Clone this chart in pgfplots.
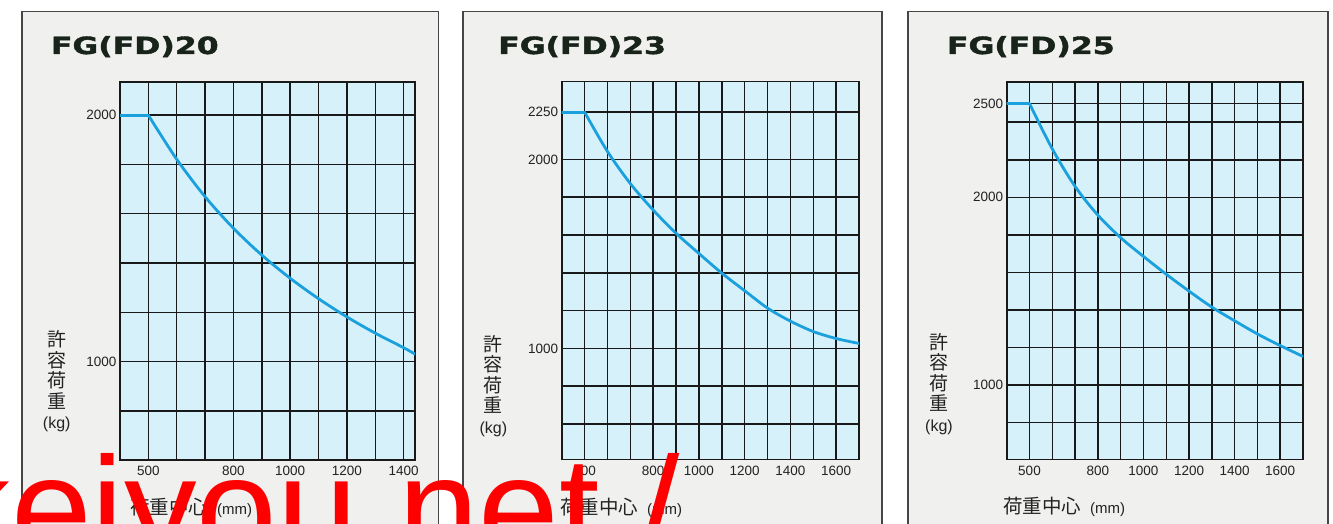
\documentclass[border=0pt]{standalone}
\usepackage{pgfplots}
\pgfplotsset{compat=1.18}
\usepackage{fontspec}
\setmainfont{Liberation Sans}
\newfontfamily\cjk{Noto Sans CJK JP}
\newfontfamily\titlefont{DejaVu Sans}[BoldFeatures={FakeBold=1.6}]
\definecolor{plotbg}{RGB}{214,241,250}
\definecolor{framebg}{RGB}{240,240,239}
\definecolor{framec}{RGB}{70,70,70}
\definecolor{curvec}{RGB}{27,160,222}
\definecolor{titlec}{RGB}{24,36,26}
\definecolor{gridc}{RGB}{25,25,25}
\definecolor{labc}{RGB}{35,35,35}
\pgfplotsset{
  panel/.style={
    anchor=south west,
    scale only axis,
    height=378pt,
    axis background/.style={fill=plotbg},
    grid=major,
    major grid style={gridc, line width=1.5pt},
    axis line style={gridc, line width=1.6pt},
    major tick length=0pt,
    tick label style={font=\fontsize{13.5}{14}\selectfont, text=labc},
    /pgf/number format/assume math mode=true,
    xticklabel style={yshift=-3pt},
    clip=true,
  },
  curve/.style={curvec, line width=2.8pt, line cap=round, line join=round},
}
\newcommand\xlab{{\cjk\fontsize{19.5}{20}\selectfont 荷重中心}\hspace{9pt}{\fontsize{15}{16}\selectfont(mm)}}
\newcommand\ttl[1]{\scalebox{1.33}[1]{\titlefont\bfseries\fontsize{23.7}{24}\selectfont #1}}
\tikzset{ylabnode/.style={align=center, inner sep=0pt, text=labc, font=\cjk\fontsize{19}{20.5}\selectfont}}
\begin{document}
\begin{tikzpicture}
\path[use as bounding box] (0pt,0pt) rectangle (1333pt,523pt);
\clip (0pt,0pt) rectangle (1333pt,523pt);
\fill[white] (0pt,0pt) rectangle (1333pt,523pt);
% frames
\filldraw[fill=framebg, draw=framec, line width=1.6pt] (22pt,511.3pt) rectangle (438.3pt,-10pt);
\filldraw[fill=framebg, draw=framec, line width=1.6pt] (463pt,511.3pt) rectangle (881.7pt,-10pt);
\filldraw[fill=framebg, draw=framec, line width=1.6pt] (908pt,511.3pt) rectangle (1327.7pt,-10pt);
% titles
\node[anchor=base west, inner sep=0pt, text=titlec] at (50.7pt,469pt) {\ttl{FG(FD)20}};
\node[anchor=base west, inner sep=0pt, text=titlec] at (498pt,469pt) {\ttl{FG(FD)23}};
\node[anchor=base west, inner sep=0pt, text=titlec] at (946.7pt,469pt) {\ttl{FG(FD)25}};

% Panel 1
\begin{axis}[panel, at={(120pt,63pt)}, width=295pt,
  xmin=400, xmax=1440, ymin=600, ymax=2135,
  xtick={500,600,700,800,900,1000,1100,1200,1300,1400},
  xticklabels={500,,,800,,1000,,1200,,1400},
  ytick={800,1000,1200,1400,1600,1800,2000},
  yticklabels={,1000,,,,,2000}]
\addplot[curve] coordinates {(400,2000) (500,2000)};
\addplot[curve, smooth, tension=0.5] coordinates {
(500,2000) (600,1821) (700,1669) (800,1541) (900,1432) (1000,1338)
(1100,1255) (1200,1181) (1300,1115) (1400,1056) (1440,1030)};
\end{axis}

% Panel 2
\begin{axis}[panel, at={(561.7pt,63.7pt)}, width=297.3pt, height=377.6pt,
  xmin=400, xmax=1700, ymin=413, ymax=2411,
  xtick={500,600,700,800,900,1000,1100,1200,1300,1400,1500,1600},
  xticklabels={500,,,800,,1000,,1200,,1400,,1600},
  ytick={600,800,1000,1200,1400,1600,1800,2000,2250},
  yticklabels={,,1000,,,,,2000,2250}]
\addplot[curve] coordinates {(400,2250) (500,2250)};
\addplot[curve, smooth, tension=0.5] coordinates {
(500,2250) (600,2042) (700,1872) (800,1732) (900,1609) (1000,1502)
(1100,1398) (1200,1305) (1300,1213) (1400,1144) (1500,1089) (1600,1052) (1700,1026)};
\end{axis}

% Panel 3
\begin{axis}[panel, at={(1006.7pt,63.7pt)}, width=296.3pt, height=377.6pt,
  xmin=400, xmax=1700, ymin=604, ymax=2616,
  xtick={500,600,700,800,900,1000,1100,1200,1300,1400,1500,1600},
  xticklabels={500,,,800,,1000,,1200,,1400,,1600},
  ytick={800,1000,1200,1400,1600,1800,2000,2200,2400,2500},
  yticklabels={,1000,,,,,2000,,,2500}]
\addplot[curve] coordinates {(400,2500) (500,2500)};
\addplot[curve, smooth, tension=0.55] coordinates {
(500,2500) (600,2258) (700,2058) (800,1905) (900,1785) (1000,1685)
(1100,1590) (1200,1500) (1300,1415) (1400,1342) (1500,1272) (1600,1210) (1700,1152)};
\end{axis}

% y labels
\node[ylabnode] at (56.7pt,141.5pt) {許\\容\\荷\\重\\{\rmfamily\fontsize{16}{20.5}\selectfont(kg)}};
\node[ylabnode] at (493.3pt,137pt) {許\\容\\荷\\重\\{\rmfamily\fontsize{16}{20.5}\selectfont(kg)}};
\node[ylabnode] at (939pt,139pt) {許\\容\\荷\\重\\{\rmfamily\fontsize{16}{20.5}\selectfont(kg)}};
% x labels
\node[anchor=west, inner sep=0pt, text=labc] at (130pt,15pt) {\xlab};
\node[anchor=west, inner sep=0pt, text=labc] at (560pt,15pt) {\xlab};
\node[anchor=west, inner sep=0pt, text=labc] at (1003pt,16pt) {\xlab};
% watermark
\node[anchor=base west, inner sep=0pt, text=red, font=\fontsize{145}{150}\selectfont] at (-61.5pt,-35pt) {keiyou.net /};
\end{tikzpicture}
\end{document}
